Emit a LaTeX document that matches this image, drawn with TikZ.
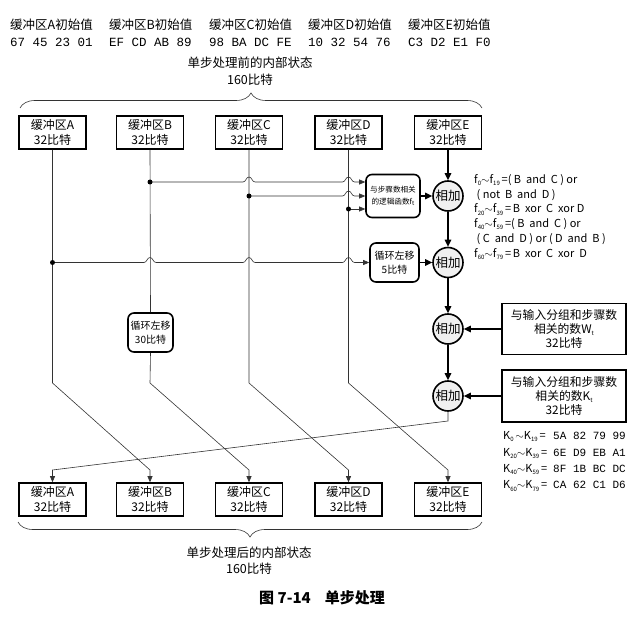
\documentclass[tikz,border=0pt]{standalone}
\usepackage{fontspec}
\setmainfont{Noto Sans CJK SC}
\newfontfamily\hexfont{Liberation Mono}
\usetikzlibrary{arrows.meta,decorations.pathreplacing,calc}
\newcommand\sbs[1]{\raisebox{-0.35ex}{\fontsize{6}{6}\selectfont #1}}
\newcommand\tld{\ensuremath{\sim}}
\newcommand\krow[2]{\makebox[50pt][l]{#1}{\hexfont\fontsize{11}{14}\selectfont #2}}
\begin{document}
\begin{tikzpicture}[x=1pt,y=-1pt,
  box/.style={draw=black,line width=1.6pt,minimum width=67pt,minimum height=33pt,inner sep=0pt,align=center,font=\fontsize{12}{15.5}\selectfont},
  rbox/.style={draw=black,line width=1.6pt,rounded corners=6pt,inner sep=0pt,align=center},
  sqbox/.style={draw=black,line width=1.6pt,inner sep=0pt,align=center,minimum width=124pt,font=\fontsize{11.8}{14}\selectfont},
  adder/.style={circle,draw=black,line width=1.6pt,fill=gray!12,minimum size=30pt,inner sep=0pt,font=\fontsize{12.5}{13}\selectfont},
  thinl/.style={line width=0.6pt,draw=black!80},
  thickl/.style={line width=1.5pt},
  tarr/.style={-{Triangle[length=7pt,width=6.5pt]}},
  sarr/.style={-{Triangle[length=6pt,width=5pt]}},
  dot/.style={circle,fill=black,inner sep=0pt,minimum size=5pt},
  lbl/.style={anchor=west,inner sep=0pt,font=\fontsize{12.5}{14}\selectfont},
  hex/.style={anchor=west,inner sep=0pt,font=\hexfont\fontsize{12.5}{14}\selectfont},
]
\useasboundingbox (0,0) rectangle (642,631);

% top labels
\node[lbl] (lA) at (10,25) {缓冲区A初始值};
\node[lbl] (lB) at (109,25) {缓冲区B初始值};
\node[lbl] (lC) at (209,25) {缓冲区C初始值};
\node[lbl] (lD) at (308,25) {缓冲区D初始值};
\node[lbl] (lE) at (408,25) {缓冲区E初始值};
\node[hex] (hA) at (10,42) {67 45 23 01};
\node[hex] (hB) at (109,42) {EF CD AB 89};
\node[hex] (hC) at (209,42) {98 BA DC FE};
\node[hex] (hD) at (308,42) {10 32 54 76};
\node[hex] (hE) at (408,42) {C3 D2 E1 F0};

\node[align=center,inner sep=0pt,font=\fontsize{12.5}{17}\selectfont] (before) at (250,71) {单步处理前的内部状态\\160比特};
\draw[thinl,decorate,decoration={brace,amplitude=15pt}] (20,108) -- (482,108);

% top boxes
\node[box] (A) at (52.5,132.5) {缓冲区A\\32比特};
\node[box] (B) at (150,132.5) {缓冲区B\\32比特};
\node[box] (C) at (249,132.5) {缓冲区C\\32比特};
\node[box] (D) at (348.5,132.5) {缓冲区D\\32比特};
\node[box] (E) at (448,132.5) {缓冲区E\\32比特};

% bottom boxes
\node[box] (Ab) at (52.5,499.5) {缓冲区A\\32比特};
\node[box] (Bb) at (150,499.5) {缓冲区B\\32比特};
\node[box] (Cb) at (249,499.5) {缓冲区C\\32比特};
\node[box] (Db) at (348.5,499.5) {缓冲区D\\32比特};
\node[box] (Eb) at (448,499.5) {缓冲区E\\32比特};

% function boxes
\node[rbox,minimum width=54pt,minimum height=43pt,font=\fontsize{7.6}{12}\selectfont] (F) at (393,196) {与步骤数相关\\的逻辑函数f\sbs{t}};
\node[rbox,minimum width=49pt,minimum height=39pt,font=\fontsize{10}{13.5}\selectfont] (R5) at (394.5,262.5) {循环左移\\5比特};
\node[rbox,minimum width=45pt,minimum height=39pt,font=\fontsize{10}{14.5}\selectfont,fill=white] (R30) at (150.5,332.5) {循环左移\\30比特};

% adders
\node[adder] (c1) at (448,196) {相加};
\node[adder] (c2) at (448,262.5) {相加};
\node[adder] (c3) at (448,329) {相加};
\node[adder] (c4) at (448,396) {相加};

% W and K boxes
\node[sqbox,minimum height=51pt] (W) at (564,329) {与输入分组和步骤数\\相关的数W\sbs{t}\\32比特};
\node[sqbox,minimum height=52pt] (K) at (564,396) {与输入分组和步骤数\\相关的数K\sbs{t}\\32比特};

% formulas
\node[anchor=north west,align=left,inner sep=0pt,font=\fontsize{11}{14.9}\selectfont] (ftext) at (474,174)
{f\sbs{0}\tld f\sbs{19}\,=(\ B\ \ and\ \ C\ )\ or\\
\ (\ not\ \ B\ \ and\ \ D\ )\\
f\sbs{20}\tld f\sbs{39}\,=\,B\ \ xor\ \ C\ \ xor\ D\\
f\sbs{40}\tld f\sbs{59}\,=(\ B\ \ and\ \ C\ )\ or\\
\ (\ C\ \ and\ \ D\ )\ or\ (\ D\ \ and\ \ B\ )\\
f\sbs{60}\tld f\sbs{79}\,=\,B\ \ xor\ \ C\ \ xor\ \ D};

\node[anchor=north west,align=left,inner sep=0pt,font=\fontsize{11}{16.4}\selectfont] (ktext) at (503,431.5)
{\krow{K\sbs{0}\,\tld K\sbs{19}\,=}{5A 82 79 99}\\
\krow{K\sbs{20}\tld K\sbs{39}\,=}{6E D9 EB A1}\\
\krow{K\sbs{40}\tld K\sbs{59}\,=}{8F 1B BC DC}\\
\krow{K\sbs{60}\tld K\sbs{79}\,=}{CA 62 C1 D6}};

% branch points
\coordinate (dB) at (150,182);
\coordinate (dC) at (249,196);
\coordinate (dD) at (348.5,209);
\coordinate (dA) at (52.5,262.5);

% vertical lines with crossings to the bottom
\coordinate (kA) at (52.5,383);
\coordinate (kB) at (150,383);
\coordinate (kC) at (249,383);
\coordinate (kD) at (348.5,383);
\coordinate (c4o) at (448,421);
\coordinate (lev) at (0,470);

\draw[thinl,sarr] (A.south) -- (kA) -- (Bb.north |- lev) -- (Bb.north);
\draw[thinl] (B.south) -- (R30.north);
\draw[thinl,sarr] (R30.south) -- (kB) -- (Cb.north |- lev) -- (Cb.north);
\draw[thinl,sarr] (C.south) -- (kC) -- (Db.north |- lev) -- (Db.north);
\draw[thinl,sarr] (D.south) -- (kD) -- (Eb.north |- lev) -- (Eb.north);
\draw[thinl,sarr] (c4.south) -- (c4o) -- (Ab.north |- lev) -- (Ab.north);

% horizontal feeds with hops
\draw[thinl,sarr] (dB) -- (243,182) .. controls (246,182) and (246,177) .. (249,177) .. controls (252,177) and (252,182) .. (255,182)
  -- (342.5,182) .. controls (345.5,182) and (345.5,177) .. (348.5,177) .. controls (351.5,177) and (351.5,182) .. (354.5,182) -- (dB -| F.west);
\draw[thinl,sarr] (dC) -- (342.5,196) .. controls (345.5,196) and (345.5,191) .. (348.5,191) .. controls (351.5,191) and (351.5,196) .. (354.5,196) -- (dC -| F.west);
\draw[thinl,sarr] (dD) -- (dD -| F.west);
\draw[thinl,sarr] (dA) -- (144,262.5) .. controls (147,262.5) and (147,257.5) .. (150,257.5) .. controls (153,257.5) and (153,262.5) .. (156,262.5)
  -- (243,262.5) .. controls (246,262.5) and (246,257.5) .. (249,257.5) .. controls (252,257.5) and (252,262.5) .. (255,262.5)
  -- (342.5,262.5) .. controls (345.5,262.5) and (345.5,257.5) .. (348.5,257.5) .. controls (351.5,257.5) and (351.5,262.5) .. (354.5,262.5) -- (dA -| R5.west);

\node[dot] at (dB) {};
\node[dot] at (dC) {};
\node[dot] at (dD) {};
\node[dot] at (dA) {};

% thick main path
\draw[thickl,tarr] (E.south) -- (c1.north);
\draw[thickl,tarr] (c1.south) -- (c2.north);
\draw[thickl,tarr] (c2.south) -- (c3.north);
\draw[thickl,tarr] (c3.south) -- (c4.north);
\draw[thickl,tarr] (F.east) -- (F.east -| c1.west);
\draw[thickl,tarr] (R5.east) -- (R5.east -| c2.west);
\draw[thickl,tarr] (W.west) -- (W.west -| c3.east);
\draw[thickl,tarr] (K.west) -- (K.west -| c4.east);

% bottom brace and labels
\draw[thinl,decorate,decoration={brace,amplitude=15pt}] (482,522) -- (18,522);
\node[align=center,inner sep=0pt,font=\fontsize{12.5}{16}\selectfont] (after) at (249,561) {单步处理后的内部状态\\160比特};
\node[inner sep=0pt,font=\bfseries\fontsize{15}{16}\selectfont] (cap) at (322,598) {图 7-14\hspace{14pt}单步处理};
\end{tikzpicture}
\end{document}
